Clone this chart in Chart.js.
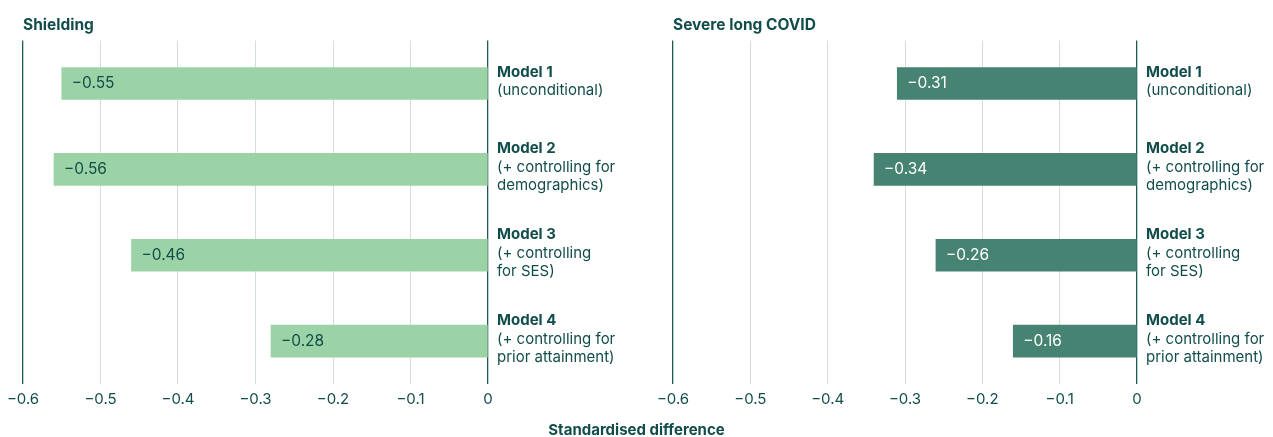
<!DOCTYPE html>
<html>
<head>
<meta charset="utf-8">
<script src="https://cdn.jsdelivr.net/npm/chart.js@4"></script>
<style>
  body { margin: 0; background: #fff; width: 1273px; height: 437px; overflow: hidden; position: relative; font-family: Inter, sans-serif; }
  canvas { position: absolute; top: 0; }
  #left { left: 0; }
  #right { left: 640px; }
  #xtitle { position: absolute; left: 0; width: 1273px; top: 420px; text-align: center; font: bold 15px Inter, sans-serif; color: #114d4b; }
</style>
</head>
<body>
<canvas id="left" width="640" height="437"></canvas>
<canvas id="right" width="633" height="437"></canvas>
<div id="xtitle">Standardised difference</div>
<script>
// Dane
const models = ['Model 1', 'Model 2', 'Model 3', 'Model 4'];
const modelNotes = [
    ['(unconditional)'],
    ['(+ controlling for', 'demographics)'],
    ['(+ controlling', 'for SES)'],
    ['(+ controlling for', 'prior attainment)']
];
const shielding = [-0.55, -0.56, -0.46, -0.28];
const severeLongCovid = [-0.31, -0.34, -0.26, -0.16];
const xTicks = [-0.6, -0.5, -0.4, -0.3, -0.2, -0.1, 0];

const textColor = '#114d4b';
const fmt = v => (v < 0 ? '\u2212' : '') + Math.abs(v).toString();

// Etykiety wartości i nazwy modeli
const labelsPlugin = {
    id: 'labels',
    afterDatasetsDraw(chart, args, opts) {
        const ctx = chart.ctx;
        const x = chart.scales.x;
        const meta = chart.getDatasetMeta(0);
        const x0 = x.getPixelForValue(0);
        ctx.save();
        ctx.textBaseline = 'middle';
        ctx.textAlign = 'left';
        meta.data.forEach((bar, i) => {
            const v = chart.data.datasets[0].data[i];
            ctx.fillStyle = opts.valueColor;
            ctx.font = '15.5px Inter, sans-serif';
            ctx.fillText(fmt(v), bar.x + 10, bar.y);
            const lines = [models[i]].concat(modelNotes[i]);
            const lh = 18.5;
            let y = bar.y - 2 - (lines.length - 1) * lh / 2;
            lines.forEach((t, j) => {
                ctx.fillStyle = textColor;
                ctx.font = (j === 0 ? 'bold ' : '') + '15px Inter, sans-serif';
                ctx.fillText(t, x0 + 9, y);
                y += lh;
            });
        });
        ctx.restore();
    }
};

function makeChart(id, title, values, barColor, valueColor, padLeft, padRight) {
    return new Chart(document.getElementById(id), {
        type: 'bar',
        data: {
            labels: models,
            datasets: [{ data: values, backgroundColor: barColor, barThickness: 32 }]
        },
        options: {
            indexAxis: 'y',
            responsive: false,
            animation: false,
            layout: { padding: { left: padLeft, right: padRight, top: 16, bottom: 23 } },
            plugins: {
                legend: { display: false },
                tooltip: { enabled: false },
                title: {
                    display: true, text: title, align: 'start', color: textColor,
                    font: { family: 'Inter', size: 15.5, weight: 'bold' },
                    padding: { top: 0, bottom: 6 }
                },
                labels: { valueColor: valueColor }
            },
            scales: {
                x: {
                    min: -0.6, max: 0,
                    afterBuildTicks: s => { s.ticks = xTicks.map(v => ({ value: v })); },
                    border: { display: false },
                    grid: {
                        drawTicks: false,
                        color: c => (c.tick && (c.tick.value === -0.6 || c.tick.value === 0)) ? '#1f5a56' : '#d6dedd',
                        lineWidth: c => (c.tick && (c.tick.value === -0.6 || c.tick.value === 0)) ? 1.3 : 1
                    },
                    ticks: {
                        color: textColor, padding: 6,
                        font: { family: 'Inter', size: 15 },
                        callback: v => v === 0 ? '0' : fmt(Math.round(v * 10) / 10)
                    }
                },
                y: { display: false }
            }
        },
        plugins: [labelsPlugin]
    });
}

makeChart('left', 'Shielding', shielding, '#9cd3a6', textColor, 23, 152);
makeChart('right', 'Severe long COVID', severeLongCovid, '#478372', '#ffffff', 33, 136);
</script>
</body>
</html>
